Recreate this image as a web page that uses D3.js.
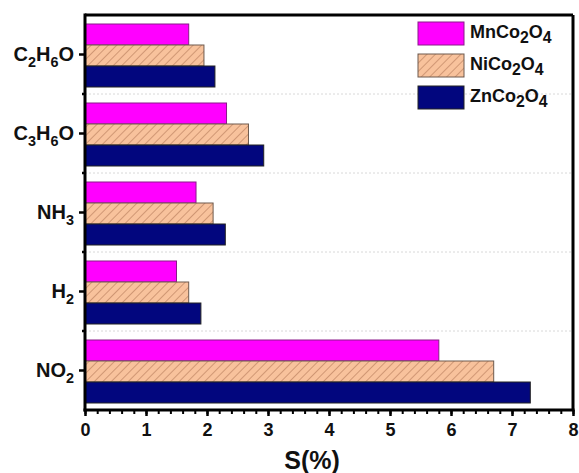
<!DOCTYPE html>
<html>
<head>
<meta charset="utf-8">
<script src="https://cdn.jsdelivr.net/npm/d3@7"></script>
<style>
  body { margin: 0; background: #fff; }
  svg { font-family: Arial, "Liberation Sans", sans-serif; }
</style>
</head>
<body>
<svg id="chart" width="579" height="473"></svg>
<script>
// gases, top to bottom
var gases = ["C2H6O", "C3H6O", "NH3", "H2", "NO2"];
// series
var series = ["MnCo2O4", "NiCo2O4", "ZnCo2O4"];
var mnValues = [1.70, 2.32, 1.82, 1.50, 5.80];
var niValues = [1.95, 2.68, 2.10, 1.70, 6.70];
var znValues = [2.13, 2.93, 2.30, 1.90, 7.30];
var xTicks = [0, 1, 2, 3, 4, 5, 6, 7, 8];

// label pieces, 1 = subscript
var gasParts = {
  "C2H6O": [["C", 0], ["2", 1], ["H", 0], ["6", 1], ["O", 0]],
  "C3H6O": [["C", 0], ["3", 1], ["H", 0], ["6", 1], ["O", 0]],
  "NH3": [["NH", 0], ["3", 1]],
  "H2": [["H", 0], ["2", 1]],
  "NO2": [["NO", 0], ["2", 1]]
};
var seriesParts = {
  "MnCo2O4": [["MnCo", 0], ["2", 1], ["O", 0], ["4", 1]],
  "NiCo2O4": [["NiCo", 0], ["2", 1], ["O", 0], ["4", 1]],
  "ZnCo2O4": [["ZnCo", 0], ["2", 1], ["O", 0], ["4", 1]]
};

var fills = {"MnCo2O4": "#ff00ff", "NiCo2O4": "url(#hatch)", "ZnCo2O4": "#02067e"};
var strokes = {"MnCo2O4": "#8a1a8a", "NiCo2O4": "#6e5a4e", "ZnCo2O4": "#222"};

var table = [];
gases.forEach(function(g, i) {
  table.push({gas: g, s: "MnCo2O4", v: mnValues[i]});
  table.push({gas: g, s: "NiCo2O4", v: niValues[i]});
  table.push({gas: g, s: "ZnCo2O4", v: znValues[i]});
});

var svg = d3.select("#chart");
var m = {left: 85, right: 573, top: 15, bottom: 410};

var defs = svg.append("defs");
var pat = defs.append("pattern")
  .attr("id", "hatch")
  .attr("patternUnits", "userSpaceOnUse")
  .attr("width", 6).attr("height", 6)
  .attr("patternTransform", "rotate(45)");
pat.append("rect").attr("width", 6).attr("height", 6).attr("fill", "#f8c29c");
pat.append("line").attr("x1", 0).attr("y1", 0).attr("x2", 0).attr("y2", 6)
  .attr("stroke", "#a86c4c").attr("stroke-width", 1);

var x = d3.scaleLinear().domain([0, 8]).range([m.left, m.right]);
var y = d3.scaleBand().domain(gases).range([m.top, m.bottom]);
var yInner = d3.scaleBand().domain(series)
  .range([9, y.bandwidth() - 7]).padding(0);

// dotted separators between groups
svg.append("g").selectAll("line")
  .data(gases.slice(1))
  .enter().append("line")
  .attr("x1", m.left).attr("x2", m.right)
  .attr("y1", function(d) { return y(d); })
  .attr("y2", function(d) { return y(d); })
  .attr("stroke", "#d8d8d8")
  .attr("stroke-width", 1)
  .attr("stroke-dasharray", "2,2");

// bars
svg.append("g").selectAll("rect")
  .data(table)
  .enter().append("rect")
  .attr("x", x(0))
  .attr("y", function(d) { return y(d.gas) + yInner(d.s); })
  .attr("width", function(d) { return x(d.v) - x(0); })
  .attr("height", yInner.bandwidth())
  .attr("fill", function(d) { return fills[d.s]; })
  .attr("stroke", function(d) { return strokes[d.s]; })
  .attr("stroke-width", 1);

// frame top / right
svg.append("line").attr("x1", m.left).attr("x2", m.right)
  .attr("y1", m.top).attr("y2", m.top)
  .attr("stroke", "#000").attr("stroke-width", 3);
svg.append("line").attr("x1", m.right).attr("x2", m.right)
  .attr("y1", m.top).attr("y2", m.bottom)
  .attr("stroke", "#000").attr("stroke-width", 3);

// x axis: minor ticks then major ticks
var xAxisG = svg.append("g").attr("transform", "translate(0," + m.bottom + ")");
xAxisG.append("g")
  .call(d3.axisBottom(x).tickValues(d3.range(0, 8.01, 0.2)).tickSize(4).tickFormat(""))
  .call(function(g) { g.select(".domain").remove(); g.selectAll("text").remove(); })
  .selectAll("line").attr("stroke-width", 2);
var xMaj = xAxisG.append("g")
  .call(d3.axisBottom(x).tickValues(xTicks).tickSize(6).tickPadding(7).tickFormat(d3.format("d")));
xMaj.select(".domain").attr("stroke-width", 3).attr("d", "M" + (m.left - 1.5) + ",0H" + (m.right + 1.5));
xMaj.selectAll("line").attr("stroke-width", 2.5);
xMaj.selectAll("text")
  .style("font-size", "18px").style("font-weight", "bold")
  .style("font-family", "Arial, 'Liberation Sans', sans-serif")
  .attr("fill", "#111");

// y axis
var yAxisG = svg.append("g").attr("transform", "translate(" + m.left + ",0)");
yAxisG.append("g").selectAll("line")
  .data(gases.slice(1))
  .enter().append("line")
  .attr("x1", -3).attr("x2", 0)
  .attr("y1", function(d) { return y(d); })
  .attr("y2", function(d) { return y(d); })
  .attr("stroke", "#000").attr("stroke-width", 2.5);
var yMaj = yAxisG.append("g").call(d3.axisLeft(y).tickSize(6).tickFormat(""));
yMaj.selectAll("text").remove();
yMaj.select(".domain").attr("stroke-width", 3).attr("d", "M0," + (m.top - 1.5) + "V" + (m.bottom + 1.5));
yMaj.selectAll("line").attr("stroke-width", 2.5);

// text with subscripts
function subText(sel, parts, size, ratio) {
  var shift = size * 0.3, down = false;
  parts.forEach(function(p) {
    var dy = 0;
    if (p[1] && !down) { dy = shift; down = true; }
    else if (!p[1] && down) { dy = -shift; down = false; }
    sel.append("tspan")
      .attr("font-size", p[1] ? size * ratio : size)
      .attr("dy", dy)
      .text(p[0]);
  });
}

svg.append("g").selectAll("text")
  .data(gases)
  .enter().append("text")
  .attr("x", m.left - 11)
  .attr("y", function(d) { return y(d) + y.bandwidth() / 2 + 6; })
  .attr("text-anchor", "end")
  .attr("font-size", 20)
  .attr("font-weight", "bold")
  .attr("fill", "#111")
  .each(function(d) { subText(d3.select(this), gasParts[d], 20, 0.72); });

// x axis title
svg.append("text")
  .attr("x", 312).attr("y", 469)
  .attr("text-anchor", "middle")
  .attr("font-size", 25).attr("font-weight", "bold").attr("fill", "#111")
  .text("S(%)");

// legend
var leg = svg.append("g").attr("transform", "translate(418,22)");
var li = leg.selectAll("g").data(series).enter().append("g")
  .attr("transform", function(d, i) { return "translate(0," + i * 32 + ")"; });
li.append("rect").attr("width", 46).attr("height", 23)
  .attr("fill", function(d) { return fills[d]; })
  .attr("stroke", function(d) { return strokes[d]; });
li.append("text").attr("x", 52).attr("y", 16)
  .attr("font-size", 18).attr("font-weight", "bold").attr("fill", "#111")
  .each(function(d) { subText(d3.select(this), seriesParts[d], 18, 0.88); });
</script>
</body>
</html>
